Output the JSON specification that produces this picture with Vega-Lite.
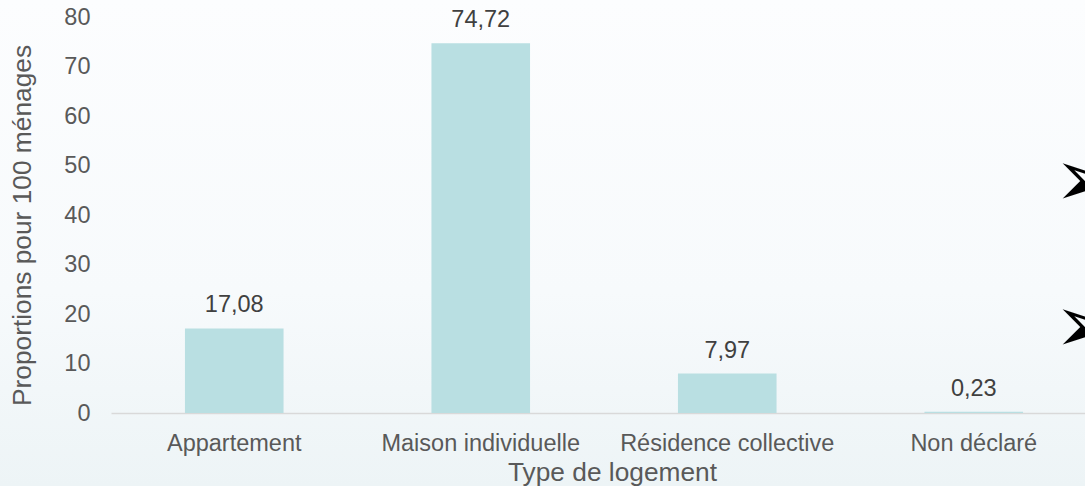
{
  "$schema": "https://vega.github.io/schema/vega-lite/v6.json",
  "width": 1085,
  "height": 486,
  "autosize": {"type": "none"},
  "padding": 0,
  "background": "#f6f9fb",
  "config": {
    "locale": {"number": {"decimal": ",", "thousands": " ", "grouping": [3], "currency": ["", " €"]}},
    "font": "Liberation Sans",
    "view": {
      "stroke": null,
      "fill": {
        "gradient": "linear",
        "x1": 0, "y1": 0, "x2": 0, "y2": 1,
        "stops": [
          {"offset": 0, "color": "#fcfdfe"},
          {"offset": 0.6, "color": "#f7fafc"},
          {"offset": 1, "color": "#edf4f6"}
        ]
      }
    }
  },
  "datasets": {
    "bars": [
      {"type": "Appartement", "v": 17.08},
      {"type": "Maison individuelle", "v": 74.72},
      {"type": "Résidence collective", "v": 7.97},
      {"type": "Non déclaré", "v": 0.23}
    ],
    "arrows": [
      {"type": "Non déclaré", "v": 46.7, "t": "➢"},
      {"type": "Non déclaré", "v": 17.1, "t": "➢"}
    ]
  },
  "encoding": {
    "x": {
      "field": "type",
      "type": "nominal",
      "sort": null,
      "title": "Type de logement",
      "scale": {"range": [111, 1097], "paddingInner": 0.6, "paddingOuter": 0.3},
      "axis": {
        "offset": -73,
        "labelAngle": 0,
        "labelLimit": 0,
        "ticks": false,
        "tickSize": 0,
        "domainColor": "#d9d9d9",
        "domainWidth": 1.3,
        "labelFontSize": 23.5,
        "labelColor": "#595959",
        "labelBaseline": "alphabetic",
        "labelPadding": 37,
        "titleFontSize": 26.3,
        "titleFontWeight": "normal",
        "titleColor": "#595959",
        "titleBaseline": "alphabetic",
        "titleX": 612,
        "titleY": 67
      }
    },
    "y": {
      "field": "v",
      "type": "quantitative",
      "title": "Proportions pour 100 ménages",
      "scale": {"domain": [0, 80], "range": [413, 17], "nice": false, "zero": true},
      "axis": {
        "offset": -111,
        "values": [0, 10, 20, 30, 40, 50, 60, 70, 80],
        "grid": false,
        "domain": false,
        "ticks": false,
        "tickSize": 0,
        "labelPadding": 21,
        "labelFontSize": 23.5,
        "labelColor": "#595959",
        "titleFontSize": 26.3,
        "titleFontWeight": "normal",
        "titleColor": "#595959",
        "titleAngle": -90,
        "titleBaseline": "middle",
        "titleAlign": "center",
        "titleX": -89,
        "titleY": 225
      }
    }
  },
  "layer": [
    {
      "data": {"name": "bars"},
      "mark": {"type": "bar", "color": "#b9dfe2"}
    },
    {
      "data": {"name": "bars"},
      "mark": {"type": "text", "baseline": "alphabetic", "dy": -16, "fontSize": 23.5, "color": "#404040"},
      "encoding": {"text": {"field": "v", "type": "quantitative", "format": ".2f"}}
    },
    {
      "data": {"name": "arrows"},
      "mark": {"type": "text", "align": "left", "baseline": "middle", "dx": 80, "fontSize": 80, "font": "DejaVu Sans", "color": "#000000"},
      "encoding": {"text": {"field": "t", "type": "nominal"}}
    }
  ]
}
